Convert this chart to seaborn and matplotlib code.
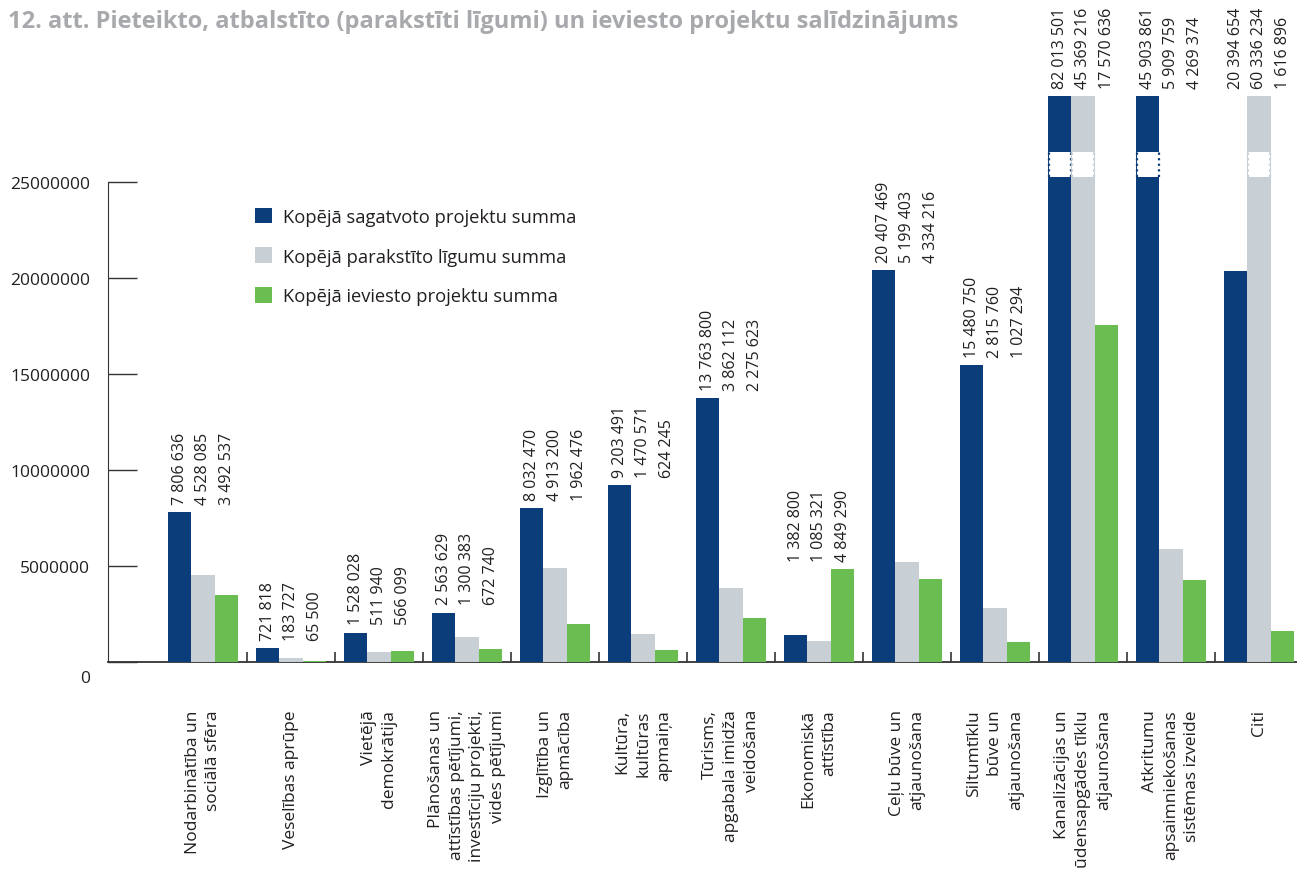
import numpy as np
import pandas as pd
import seaborn as sns
import matplotlib.pyplot as plt
from matplotlib.patches import Rectangle
from matplotlib.transforms import ScaledTranslation

categories = [
    "Nodarbinātība un\nsociālā sfēra",
    "Veselības aprūpe",
    "Vietējā\ndemokrātija",
    "Plānošanas un\nattīstības pētījumi,\ninvestīciju projekti,\nvides pētījumi",
    "Izglītība un\napmācība",
    "Kultūra,\nkultūras\napmaiņa",
    "Tūrisms,\napgabala imidža\nveidošana",
    "Ekonomiskā\nattīstība",
    "Ceļu būve un\natjaunošana",
    "Siltumtīklu\nbūve un\natjaunošana",
    "Kanalizācijas un\nūdensapgādes tīklu\natjaunošana",
    "Atkritumu\napsaimniekošanas\nsistēmas izveide",
    "Citi",
]
prepared = [7806636, 721818, 1528028, 2563629, 8032470, 9203491, 13763800,
            1382800, 20407469, 15480750, 82013501, 45903861, 20394654]
signed = [4528085, 183727, 511940, 1300383, 4913200, 1470571, 3862112,
          1085321, 5199403, 2815760, 45369216, 5909759, 60336234]
implemented = [3492537, 65500, 566099, 672740, 1962476, 624245, 2275623,
               4849290, 4334216, 1027294, 17570636, 4269374, 1616896]
series = ["Kopējā sagatvoto projektu summa",
          "Kopējā parakstīto līgumu summa",
          "Kopējā ieviesto projektu summa"]
colors = ["#0A3D7A", "#C8CFD5", "#6ABD50"]
yticks = [0, 5000000, 10000000, 15000000, 20000000, 25000000]

CAP = 29.5e6           # visible top of the (broken) bars
BREAK = (25.26e6, 26.56e6)

sns.set_style("white")
plt.rcParams["font.family"] = ["Open Sans", "DejaVu Sans"]
TXT = "#231F20"

values = [prepared, signed, implemented]
df = pd.DataFrame({
    "cat": np.tile(categories, 3),
    "series": np.repeat(series, len(categories)),
    "value": np.concatenate(values),
})
df["shown"] = df["value"].clip(upper=CAP)

fig = plt.figure(figsize=(12.97, 8.70), dpi=100)
ax = fig.add_axes([108 / 1297, 1 - 663 / 870, 1 - 108 / 1297, (663 - 97) / 870])

sns.barplot(data=df, x="cat", y="shown", hue="series", palette=colors,
            saturation=1, width=0.8, ax=ax, legend=True, zorder=3, linewidth=0)

ax.set_ylim(0, CAP)
ax.set_xlim(-1.08, 12.43)
ax.set_xlabel("")
ax.set_ylabel("")

# broken bars + value labels
for s, cont in enumerate(ax.containers):
    for i, bar in enumerate(cont.patches):
        v = values[s][i]
        x0, w = bar.get_x(), bar.get_width()
        if v > CAP:
            ax.add_patch(Rectangle((x0 + 0.01, BREAK[0]), w - 0.02, BREAK[1] - BREAK[0],
                                   facecolor="white", edgecolor="none", zorder=4))
            ax.vlines([x0 + 0.01, x0 + w - 0.01], BREAK[0], BREAK[1],
                      colors=colors[s], linestyles=(0, (1, 1.5)), lw=1.6, zorder=5)
        top = min(max(values[k][i] for k in range(3)), CAP)
        ax.annotate(f"{v:,}".replace(",", " "), (x0 + w / 2, top),
                    xytext=(0, 6), textcoords="offset points",
                    rotation=90, ha="center", va="bottom",
                    fontsize=11.5, color=TXT, annotation_clip=False)

# axes styling
for side in ["top", "right"]:
    ax.spines[side].set_visible(False)
ax.spines["left"].set_bounds(0, 25000000)
ax.spines["left"].set_color("#333333")
ax.spines["bottom"].set_color("#333333")
ax.spines["bottom"].set_linewidth(1.3)
ax.set_yticks(yticks)
ax.set_yticklabels([str(t) for t in yticks])
ax.tick_params(axis="y", left=True, direction="in", length=21, width=1, color="#333333",
               pad=13, labelsize=12.5, labelcolor=TXT)
lbl0 = ax.get_yticklabels()[0]
lbl0.set_transform(lbl0.get_transform() + ScaledTranslation(0, -10 / 72, fig.dpi_scale_trans))

ax.set_xticks(range(len(categories)))
ax.set_xticklabels(categories, rotation=90, ha="center", va="top",
                   multialignment="right", linespacing=1.4)
ax.set_xticks(np.arange(0.5, len(categories) - 1, 1), minor=True)
ax.tick_params(axis="x", which="major", length=0, pad=34, labelsize=12.5, labelcolor=TXT)
ax.tick_params(axis="x", which="minor", direction="in", length=7, width=1.2,
               color="#333333", bottom=True)

ax.legend(loc="upper left", bbox_to_anchor=(0.1236, 0.803), frameon=False,
          fontsize=13.2, labelcolor=TXT, handlelength=0.95, handleheight=0.95,
          handletextpad=0.6, labelspacing=1.18, borderpad=0, borderaxespad=0)

fig.text(8 / 1297, 1 - 22 / 870,
         "12. att. Pieteikto, atbalstīto (parakstīti līgumi) un ieviesto projektu salīdzinājums",
         fontsize=17, fontweight="bold", color="#A7A9AC", va="center", ha="left")

fig.savefig("out.png", dpi=100)
